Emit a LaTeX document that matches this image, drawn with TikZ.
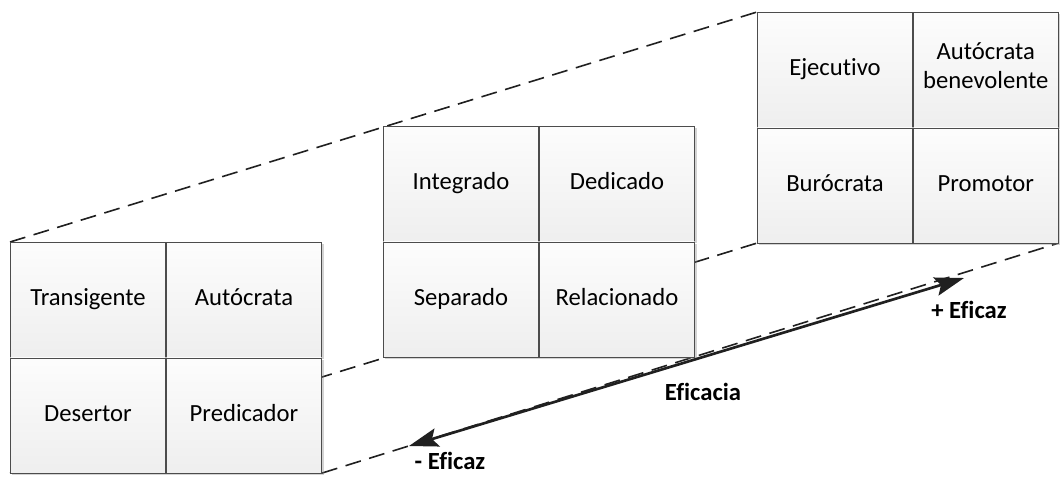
\documentclass[tikz,border=0pt]{standalone}
\usepackage{fontspec}
\setmainfont{Carlito}[Ligatures={NoCommon,NoRequired}]
\usepackage{tikz}
\usetikzlibrary{positioning,calc,shadows,backgrounds,arrows.meta}

\tikzset{
  celda/.style={minimum width=116.6pt,minimum height=86.25pt,inner sep=0pt,draw=gray!60!black,
    top color=gray!2,bottom color=gray!13,align=center,font=\fontsize{18.5}{21.5}\selectfont,
    execute at begin node=\strut,execute at end node=\strut,
    drop shadow={shadow xshift=1.5pt,shadow yshift=-1.5pt,opacity=0.35}},
  guia/.style={draw=gray!25!black,line width=1.2pt,dash pattern=on 12pt off 6.5pt},
  punta/.style={line width=2pt,draw=gray!25!black,
    {Stealth[length=22pt,width=14pt,inset=4pt]}-{Stealth[length=22pt,width=14pt,inset=4pt]}},
  etiqueta/.style={font=\fontsize{18.5}{22}\selectfont\bfseries,inner sep=0pt}
}

\begin{document}
\begin{tikzpicture}[x=0.75pt,y=-0.75pt]
		\useasboundingbox (0,0) rectangle (1060,476);
		% cuadro inferior
		\node[celda,anchor=north west] (trans) at (10,242) {Transigente};
		\node[celda,right=0pt of trans] (autoc) {Autócrata};
		\node[celda,below=0pt of trans] (deser) {Desertor};
		\node[celda,right=0pt of deser] (pred) {Predicador};
		% cuadro central
		\node[celda,anchor=north west] (integ) at (383,126) {Integrado};
		\node[celda,right=0pt of integ] (dedic) {Dedicado};
		\node[celda,below=0pt of integ] (separ) {Separado};
		\node[celda,right=0pt of separ] (relac) {Relacionado};
		% cuadro superior
		\node[celda,anchor=north west] (ejec) at (757,12) {Ejecutivo};
		\node[celda,right=0pt of ejec,minimum width=108.75pt] (benev) {Autócrata\\benevolente};
		\node[celda,below=0pt of ejec] (buro) {Burócrata};
		\node[celda,right=0pt of buro,minimum width=108.75pt] (prom) {Promotor};
		
		\begin{scope}[on background layer]
			\draw[guia] (trans.north west)--(ejec.north west);
			\draw[guia] (deser.south west)--(buro.south west);
			\draw[guia] (pred.south east)--(prom.south east);
		\end{scope}
		
		\coordinate (menos) at (409,446);
		\coordinate (mas) at (964,278);
		\draw[punta] (menos)--(mas);
		\node[etiqueta] (eficacia) at (703,392) {Eficacia};
		\node[etiqueta] (menosef) at (450,461) {- Eficaz};
		\node[etiqueta] (masef) at (969,310) {+ Eficaz};
	\end{tikzpicture}
\end{document}
